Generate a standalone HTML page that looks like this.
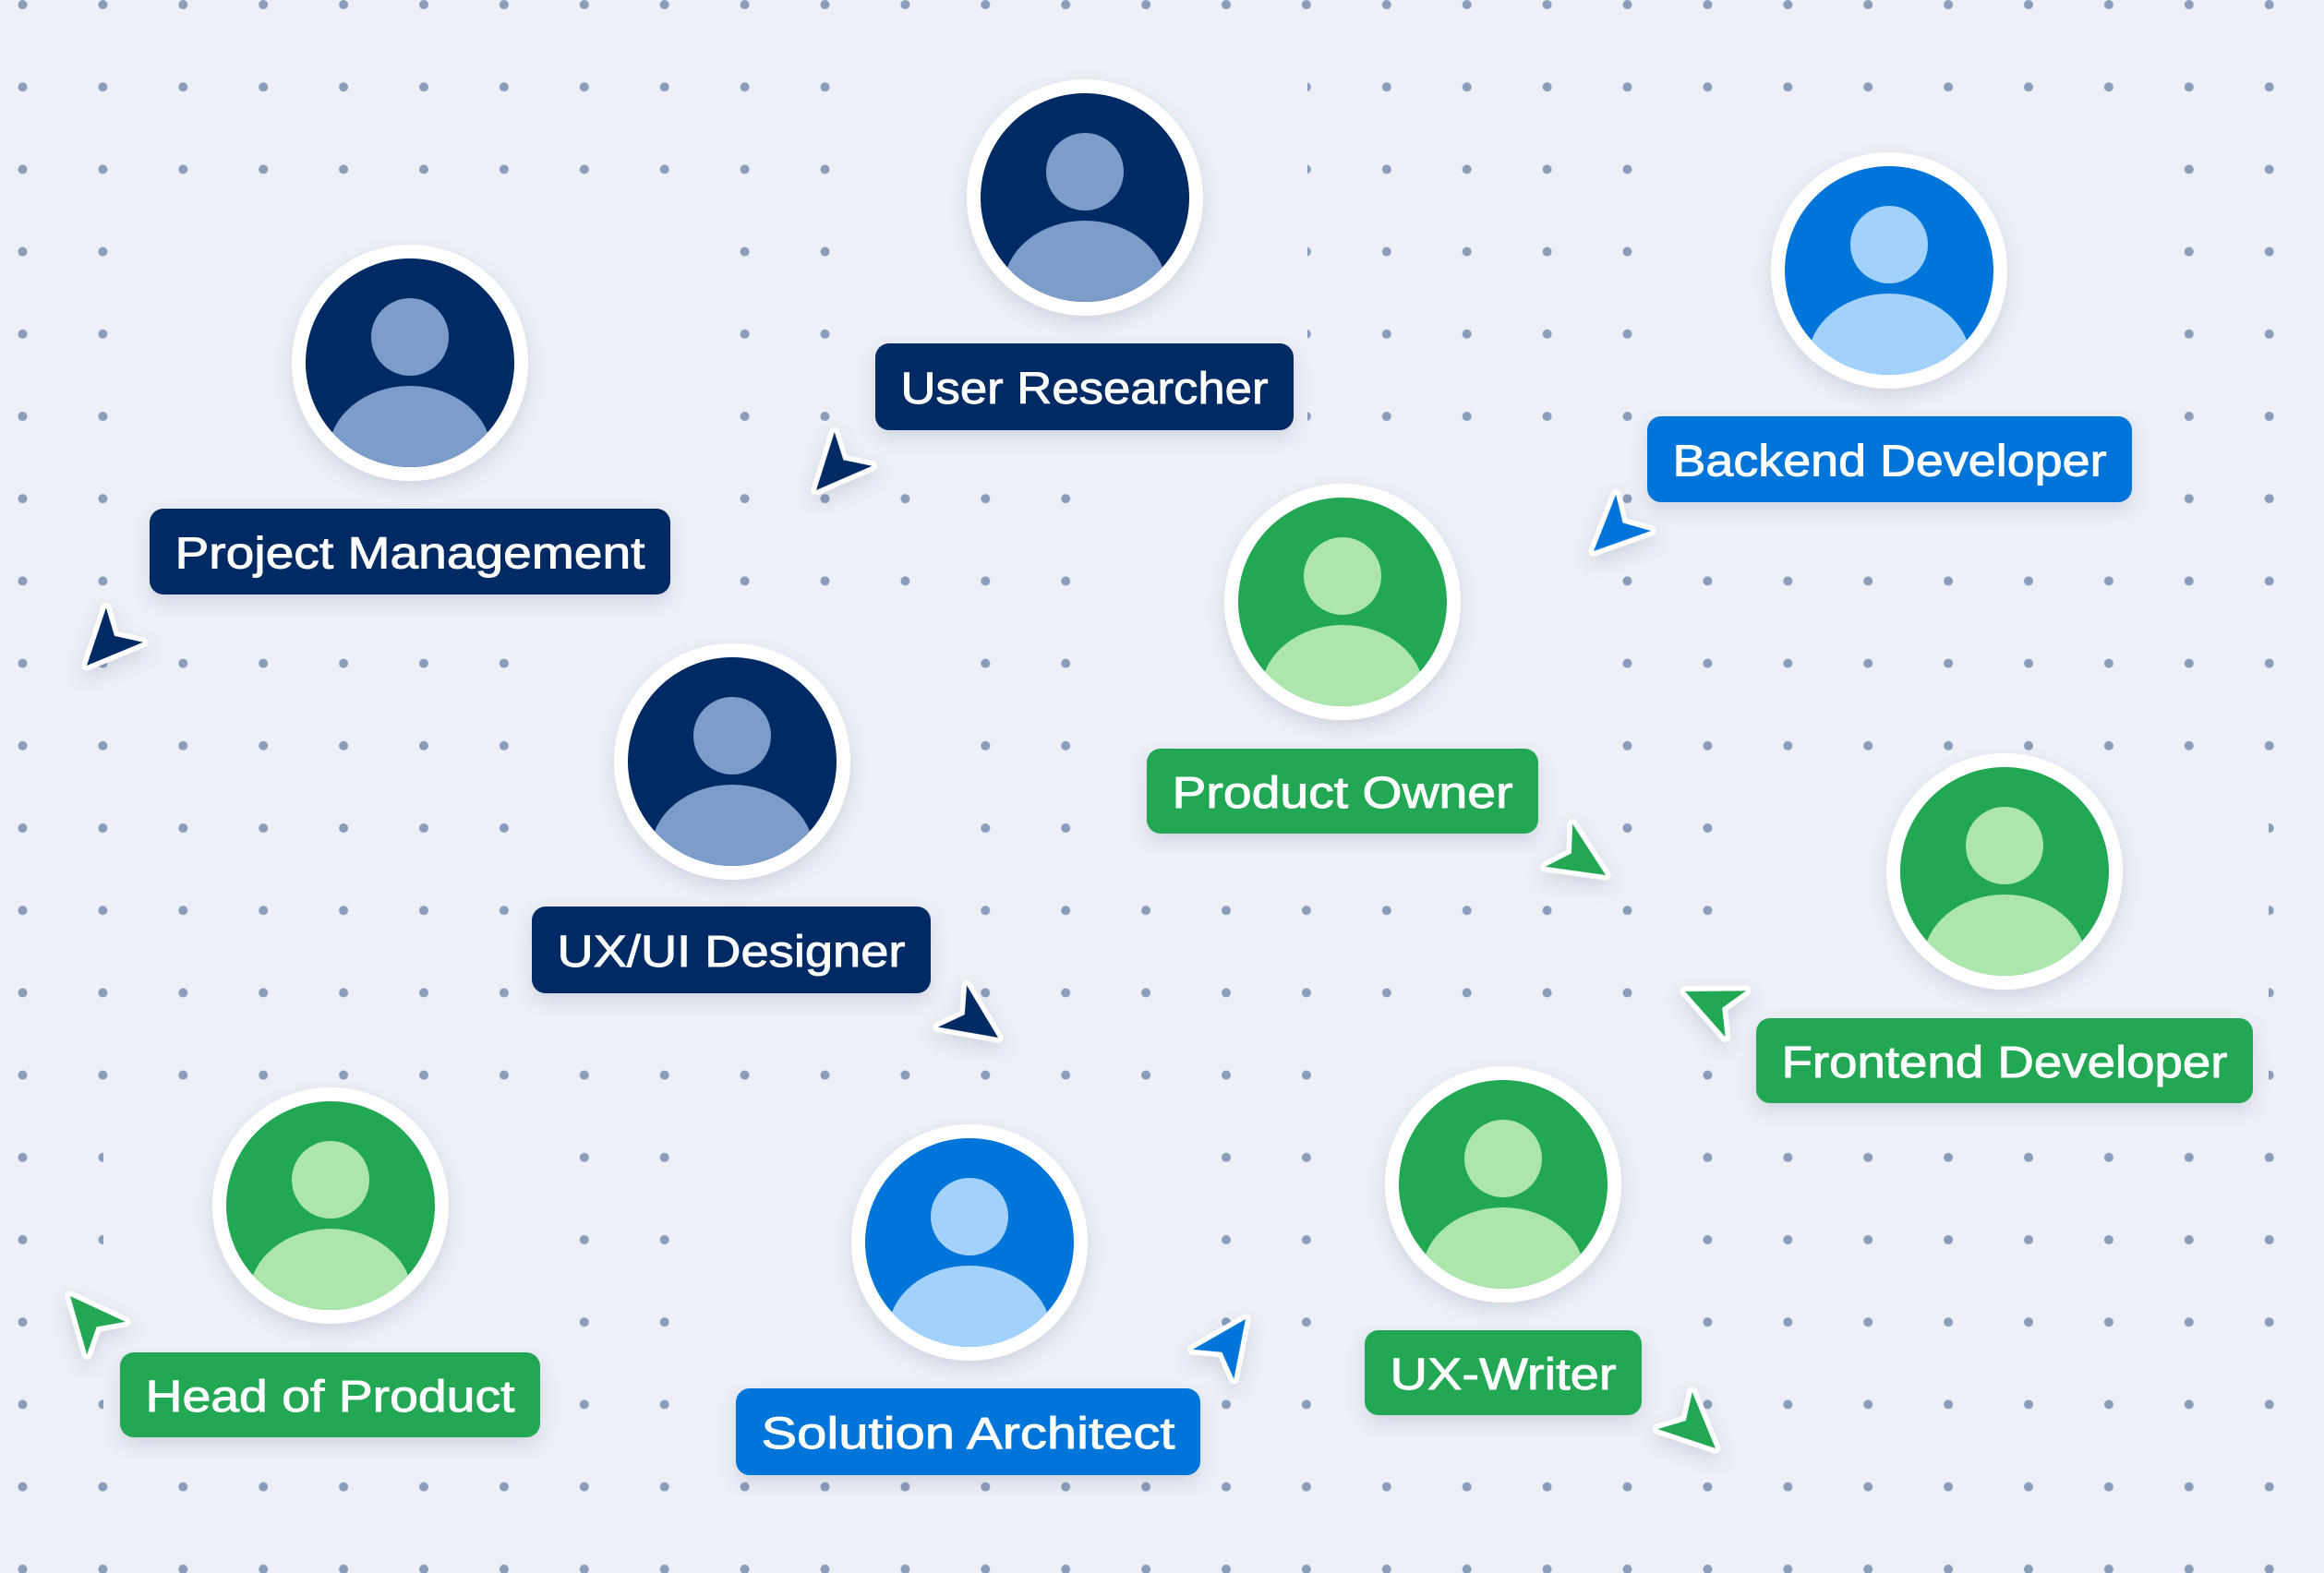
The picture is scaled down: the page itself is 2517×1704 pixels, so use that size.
<!DOCTYPE html>
<html><head><meta charset="utf-8"><style>
html,body{margin:0;padding:0;background:#edf0f7;}
svg{display:block;}
text{font-family:"Liberation Sans",sans-serif;font-size:48px;fill:#fff;stroke:#fff;stroke-width:0.9px;}
</style></head><body>
<svg width="2517" height="1704" viewBox="0 0 2517 1704" xmlns="http://www.w3.org/2000/svg">
<defs>
<pattern id="dots" patternUnits="userSpaceOnUse" x="0" y="0" width="86.9" height="89.2">
<circle cx="24.5" cy="5" r="5" fill="#8a9dbb"/>
</pattern>
<clipPath id="cc"><circle cx="0" cy="0" r="113"/></clipPath>
<filter id="sh" x="-30%" y="-30%" width="160%" height="170%">
<feDropShadow dx="0" dy="8" stdDeviation="9" flood-color="#3a4a6a" flood-opacity="0.16"/>
</filter>
<g id="cur"><path d="M0,0 L27.4,60 L0,44 L-27.4,60 Z" stroke="#fff" stroke-width="11" stroke-linejoin="round" paint-order="stroke"/></g>
</defs>
<rect width="2517" height="1704" fill="#edf0f7"/>
<rect width="2517" height="1704" fill="url(#dots)"/>
<g fill="#edf0f7">
<rect x="940" y="50" width="476" height="450"/>
<rect x="160" y="230" width="600" height="450"/>
<rect x="590" y="680" width="430" height="435"/>
<rect x="112" y="1215" width="478" height="345"/>
<rect x="770" y="1215" width="520" height="345"/>
<rect x="1200" y="500" width="520" height="440"/>
<rect x="1800" y="140" width="520" height="440"/>
<rect x="1890" y="850" width="567" height="365"/>
<rect x="1460" y="1130" width="330" height="430"/>
</g>

<!-- avatars -->
<g filter="url(#sh)">
<g transform="translate(444,393)"><circle r="128" fill="#fff"/><circle r="113" fill="#022a63"/><g clip-path="url(#cc)" fill="#7b9dca"><circle cx="0" cy="-28" r="42"/><ellipse cx="0" cy="97" rx="88" ry="72"/></g></g>
<g transform="translate(1175,214)"><circle r="128" fill="#fff"/><circle r="113" fill="#022a63"/><g clip-path="url(#cc)" fill="#7b9dca"><circle cx="0" cy="-28" r="42"/><ellipse cx="0" cy="97" rx="88" ry="72"/></g></g>
<g transform="translate(2046,293)"><circle r="128" fill="#fff"/><circle r="113" fill="#0275d9"/><g clip-path="url(#cc)" fill="#a2d2fc"><circle cx="0" cy="-28" r="42"/><ellipse cx="0" cy="97" rx="88" ry="72"/></g></g>
<g transform="translate(1454,652)"><circle r="128" fill="#fff"/><circle r="113" fill="#20a754"/><g clip-path="url(#cc)" fill="#ade6ac"><circle cx="0" cy="-28" r="42"/><ellipse cx="0" cy="97" rx="88" ry="72"/></g></g>
<g transform="translate(2171,944)"><circle r="128" fill="#fff"/><circle r="113" fill="#20a754"/><g clip-path="url(#cc)" fill="#ade6ac"><circle cx="0" cy="-28" r="42"/><ellipse cx="0" cy="97" rx="88" ry="72"/></g></g>
<g transform="translate(1628,1283)"><circle r="128" fill="#fff"/><circle r="113" fill="#20a754"/><g clip-path="url(#cc)" fill="#ade6ac"><circle cx="0" cy="-28" r="42"/><ellipse cx="0" cy="97" rx="88" ry="72"/></g></g>
<g transform="translate(793,825)"><circle r="128" fill="#fff"/><circle r="113" fill="#022a63"/><g clip-path="url(#cc)" fill="#7b9dca"><circle cx="0" cy="-28" r="42"/><ellipse cx="0" cy="97" rx="88" ry="72"/></g></g>
<g transform="translate(358,1306)"><circle r="128" fill="#fff"/><circle r="113" fill="#20a754"/><g clip-path="url(#cc)" fill="#ade6ac"><circle cx="0" cy="-28" r="42"/><ellipse cx="0" cy="97" rx="88" ry="72"/></g></g>
<g transform="translate(1050,1346)"><circle r="128" fill="#fff"/><circle r="113" fill="#0275d9"/><g clip-path="url(#cc)" fill="#a2d2fc"><circle cx="0" cy="-28" r="42"/><ellipse cx="0" cy="97" rx="88" ry="72"/></g></g>
</g>

<!-- labels -->
<g filter="url(#sh)">
<rect x="162" y="551" width="564" height="93" rx="15" fill="#022a63"/>
<rect x="948" y="372" width="453" height="94" rx="15" fill="#022a63"/>
<rect x="1784" y="451" width="525" height="93" rx="15" fill="#0275d9"/>
<rect x="1242" y="811" width="424" height="92" rx="15" fill="#20a754"/>
<rect x="1902" y="1103" width="538" height="92" rx="15" fill="#20a754"/>
<rect x="1478" y="1441" width="300" height="92" rx="15" fill="#20a754"/>
<rect x="576" y="982" width="432" height="94" rx="15" fill="#022a63"/>
<rect x="130" y="1465" width="455" height="92" rx="15" fill="#20a754"/>
<rect x="797" y="1504" width="503" height="94" rx="15" fill="#0275d9"/>
</g>
<text x="189.5" y="615.5" textLength="509" lengthAdjust="spacingAndGlyphs">Project Management</text>
<text x="975.5" y="437" textLength="398" lengthAdjust="spacingAndGlyphs">User Researcher</text>
<text x="1811.5" y="515.5" textLength="470" lengthAdjust="spacingAndGlyphs">Backend Developer</text>
<text x="1269.5" y="875" textLength="369" lengthAdjust="spacingAndGlyphs">Product Owner</text>
<text x="1929.5" y="1167" textLength="483" lengthAdjust="spacingAndGlyphs">Frontend Developer</text>
<text x="1505.5" y="1505" textLength="245" lengthAdjust="spacingAndGlyphs">UX-Writer</text>
<text x="603.5" y="1047" textLength="377" lengthAdjust="spacingAndGlyphs">UX/UI Designer</text>
<text x="157.5" y="1529" textLength="400" lengthAdjust="spacingAndGlyphs">Head of Product</text>
<text x="824.5" y="1569" textLength="448" lengthAdjust="spacingAndGlyphs">Solution Architect</text>

<!-- cursors -->
<g filter="url(#sh)">
<use href="#cur" fill="#022a63" transform="translate(94,721) rotate(-137)"/>
<use href="#cur" fill="#022a63" transform="translate(884,531) rotate(-138)"/>
<use href="#cur" fill="#0275d9" transform="translate(1726,597) rotate(-134)"/>
<use href="#cur" fill="#20a754" transform="translate(1739,948) rotate(122.5)"/>
<use href="#cur" fill="#022a63" transform="translate(1081,1124) rotate(124.5)"/>
<use href="#cur" fill="#20a754" transform="translate(1825,1074) rotate(-66)"/>
<use href="#cur" fill="#20a754" transform="translate(76,1404) rotate(-40.5)"/>
<use href="#cur" fill="#0275d9" transform="translate(1349,1429) rotate(35.6)"/>
<use href="#cur" fill="#20a754" transform="translate(1858,1569) rotate(133)"/>
</g>
</svg>
</body></html>
